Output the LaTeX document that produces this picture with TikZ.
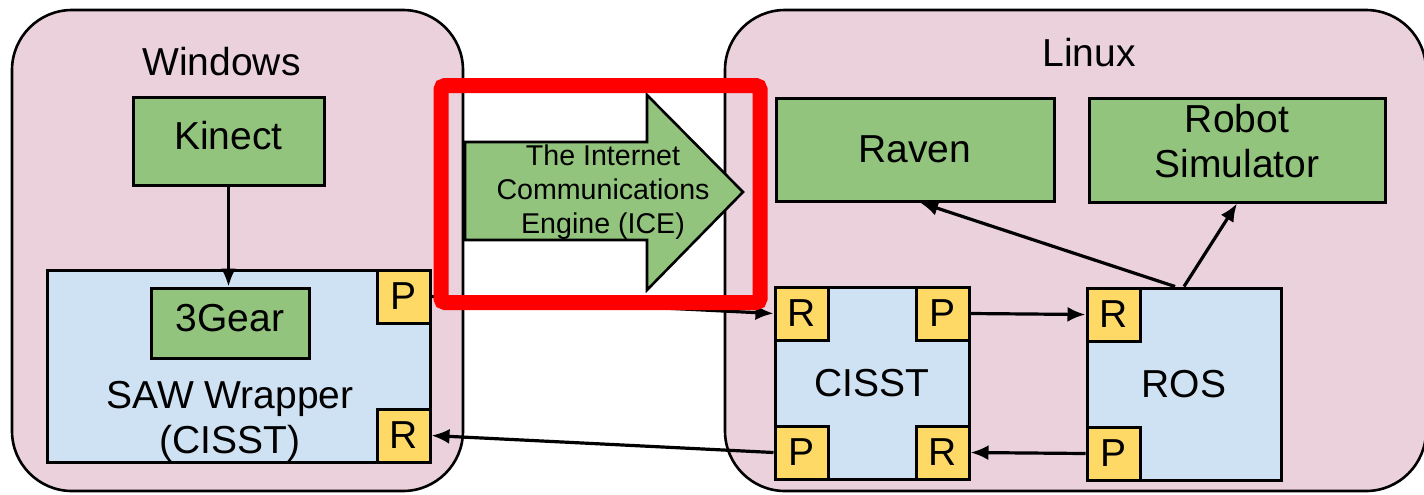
\documentclass[tikz,border=0pt]{standalone}
\usepackage{fontspec}
\setmainfont{Liberation Sans}
\usetikzlibrary{arrows.meta,positioning}

\definecolor{ospink}{RGB}{234,209,220}
\definecolor{appgreen}{RGB}{147,196,125}
\definecolor{compblue}{RGB}{207,226,243}
\definecolor{portyellow}{RGB}{255,217,102}

\tikzset{
	os/.style={draw, line width=1.3pt, fill=ospink, rounded corners=30pt},
	big/.style={font=\fontsize{19.5pt}{22.5pt}\selectfont},
	app/.style={draw, line width=1.5pt, fill=appgreen, inner sep=0pt, align=center, big},
	oneline/.style={text height=14pt, text depth=6pt},
	comp/.style={draw, line width=1.5pt, fill=compblue, inner sep=0pt, big},
	port/.style={draw, line width=1.5pt, fill=portyellow, minimum size=26.5pt, inner sep=0pt, big},
	link/.style={line width=1.6pt, -{Latex[length=9pt,width=7.5pt]}},
}

\begin{document}
\begin{tikzpicture}[x=0.5pt,y=-0.5pt]
			\useasboundingbox (0,0) rectangle (1424,494);

			% machines
			\node[os, minimum width=225.5pt, minimum height=240.5pt] (win) at (237.5,250.5) {};
			\node[os, minimum width=350.5pt, minimum height=240.5pt] (linux) at (1075.5,250.5) {};
			\node[big] (wintitle) at (221.5,62) {Windows};
			\node[big] (linuxtitle) at (1089,53) {Linux};

			% windows side
			\node[app, oneline, minimum width=95.5pt, minimum height=44pt] (kinect) at (228.5,141) {Kinect};
			\node[comp, minimum width=191.5pt, minimum height=96pt] (saw) at (238.5,366) {};
			\node[app, oneline, minimum width=79pt, minimum height=35pt] (gear) at (230,323) {3Gear};
			\node[big, align=center] (sawtext) at (230,421) {SAW Wrapper\\(CISST)};
			\node[port, anchor=north east] (wp) at (saw.north east) {P};
			\node[port, anchor=south east] (wr) at (saw.south east) {R};

			% linux side
			\node[app, minimum width=139pt, minimum height=51.5pt] (raven) at (915,149.5) {Raven};
			\node[app, minimum width=148pt, minimum height=52pt] (sim) at (1237,150) {Robot\\Simulator\rule[-9pt]{0pt}{9pt}};
			\node[comp, minimum width=97pt, minimum height=96pt] (cisst) at (872,383) {CISST};
			\node[comp, minimum width=97pt, minimum height=96pt] (ros) at (1184,384) {ROS};
			\node[port, anchor=north west] (cr1) at (cisst.north west) {R};
			\node[port, anchor=north east] (cp1) at (cisst.north east) {P};
			\node[port, anchor=south west] (cp2) at (cisst.south west) {P};
			\node[port, anchor=south east] (cr2) at (cisst.south east) {R};
			\node[port, anchor=north west] (rr) at (ros.north west) {R};
			\node[port, anchor=south west] (rp) at (ros.south west) {P};

			% links
			\draw[link] (kinect.south) -- (kinect.south |- gear.north);
			\draw[link] (wp.east) -- (cr1.west);
			\draw[link] (cp2.west) -- (wr.east);
			\draw[link] (cp1.east) -- (rr.west);
			\draw[link] (rp.west) -- (cr2.east);
			\draw[link] ([xshift=-4.5pt]ros.north) -- ([xshift=2.5pt]raven.south);
			\draw[link] (ros.north) -- (sim.south);

			% ice arrow
			\draw[line width=1.3pt, fill=appgreen] (465,142) -- (647,142) -- (647,95) -- (743,192) -- (647,290) -- (647,240) -- (465,240) -- cycle;
			\node[align=center, font=\fontsize{14.3pt}{17pt}\selectfont] (ice) at (603,192) {The Internet\\Communications\\Engine (ICE)};

			% highlight
			\draw[red, line width=7.5pt, rounded corners=2pt] (441,85.5) rectangle (760,302.5);
		\end{tikzpicture}
\end{document}
